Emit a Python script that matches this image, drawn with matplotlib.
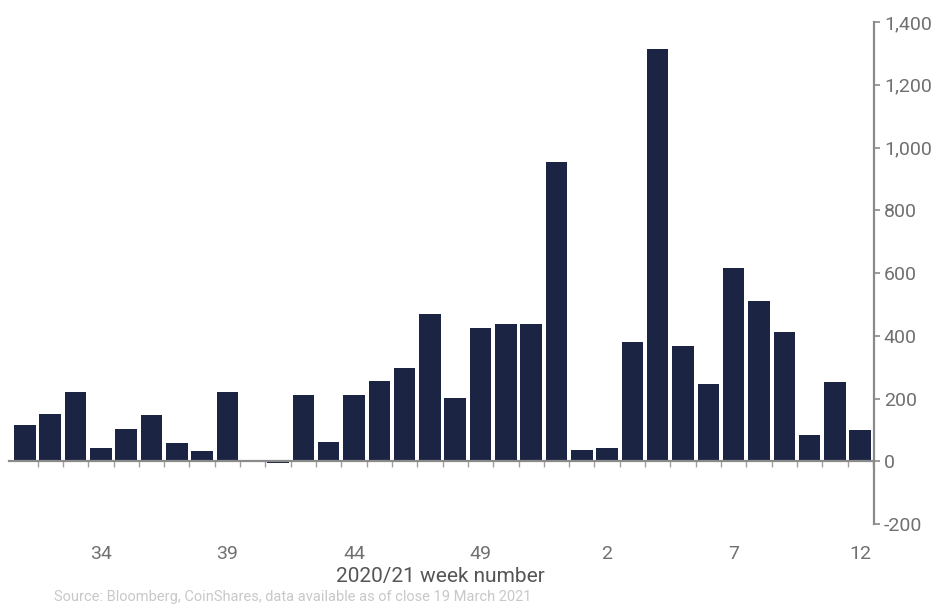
import matplotlib.pyplot as plt
import numpy as np

# semanas 2020/21 y flujos semanales (USD m)
weeks = list(range(31, 53)) + list(range(1, 13))
flows = [116, 150, 222, 43, 104, 146, 57, 33, 222, 2, -4, 210, 62, 210, 255, 298,
         469, 202, 424, 437, 437, 955, 37, 42, 381, 1314, 366, 245, 615, 511, 412,
         84, 254, 101]
label_weeks = [34, 39, 44, 49, 2, 7, 12]
y_ticks = [-200, 0, 200, 400, 600, 800, 1000, 1200, 1400]

bar_color = '#1c2443'
axis_color = '#8a8a8a'
text_color = '#707070'

plt.rcParams['font.family'] = ['Roboto', 'DejaVu Sans']

fig = plt.figure(figsize=(9.44, 6.06), dpi=100)
ax = fig.add_axes([0.0095, 0.1353, 0.9165, 0.8284])

x = np.arange(len(weeks))
ax.bar(x, flows, width=0.85, color=bar_color, zorder=3)

ax.set_xlim(-0.63, len(weeks) - 0.45)
ax.set_ylim(-200, 1400)

# eje Y a la derecha
ax.yaxis.tick_right()
ax.set_yticks(y_ticks)
ax.set_yticklabels([f'{v:,}' for v in y_ticks])
ax.tick_params(axis='y', direction='out', length=4, width=1.2, color=axis_color,
               labelsize=14, labelcolor=text_color, pad=3)

for s in ['left', 'top']:
    ax.spines[s].set_visible(False)
ax.spines['right'].set_color(axis_color)
ax.spines['right'].set_linewidth(1.6)
ax.spines['bottom'].set_position(('data', 0))
ax.spines['bottom'].set_color(axis_color)
ax.spines['bottom'].set_linewidth(1.6)
ax.spines['bottom'].set_zorder(4)

# etiquetas de semana abajo
pos = [i for i, w in enumerate(weeks) if w in label_weeks]
ax.set_xticks(pos)
ax.set_xticklabels([str(weeks[i]) for i in pos])
ax.set_xticks(np.arange(len(weeks)) + 0.5, minor=True)
ax.tick_params(axis='x', which='major', length=0, pad=60, labelsize=14,
               labelcolor=text_color)
ax.tick_params(axis='x', which='minor', direction='out', length=4, width=1,
               color='#a0a0a0')

fig.text(0.467, 0.048, '2020/21 week number', ha='center', va='center',
         fontsize=15, color='#555555')
fig.text(0.057, 0.015, 'Source: Bloomberg, CoinShares, data available as of close 19 March 2021',
         ha='left', va='center', fontsize=10.5, color='#c8c8c8')

fig.savefig('out.png', dpi=100)
